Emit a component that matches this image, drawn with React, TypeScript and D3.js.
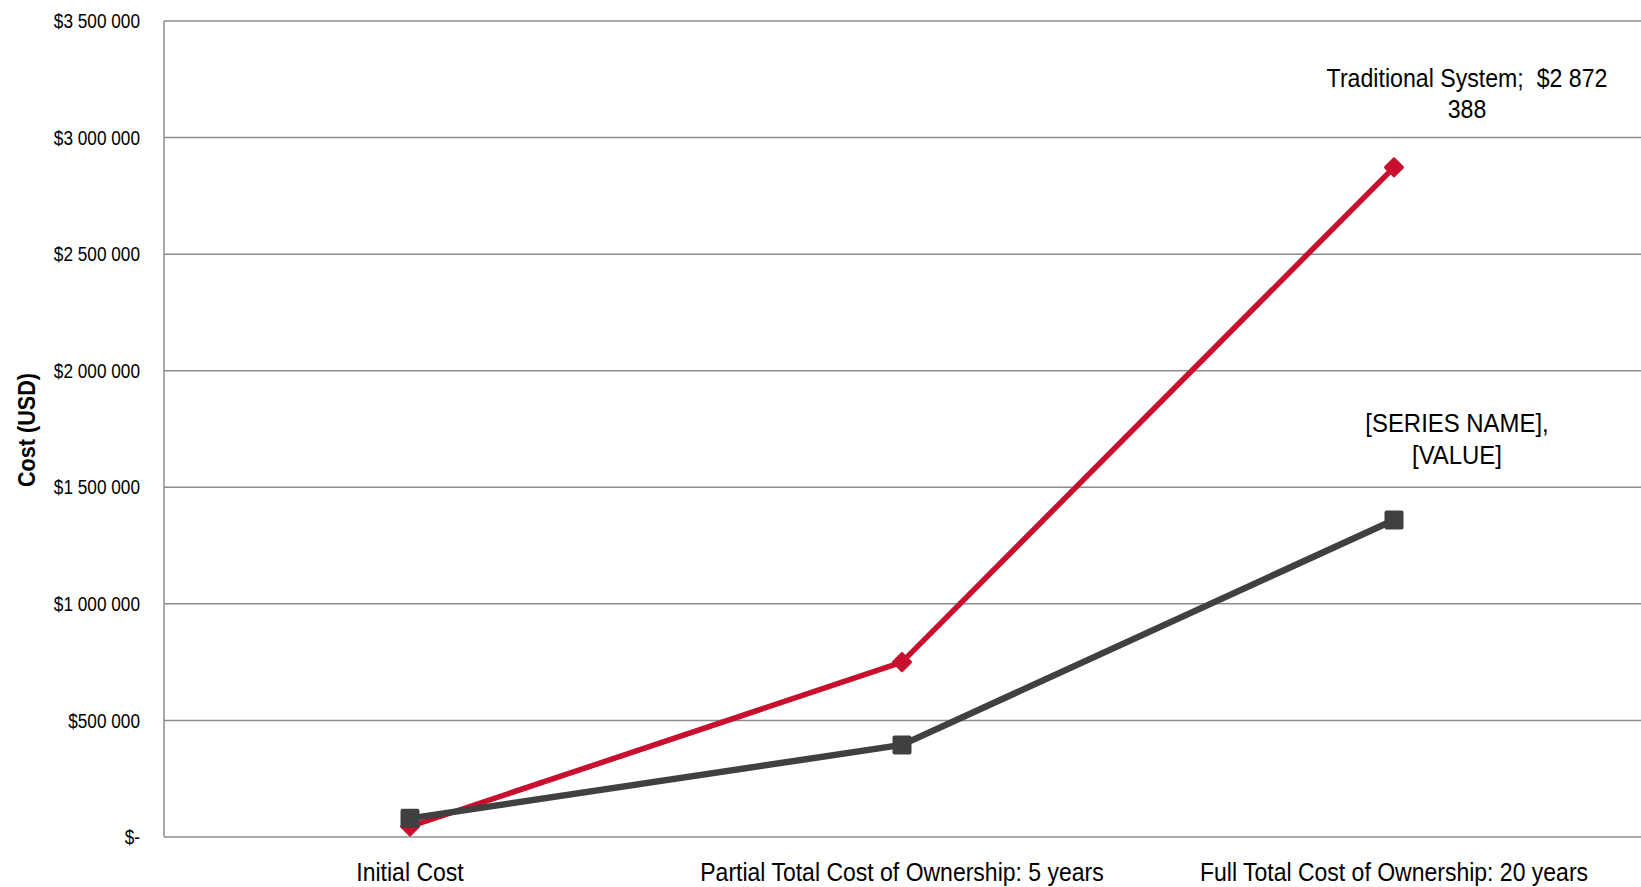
import React from "react";
import * as d3 from "d3";

const categories = [
  "Initial Cost",
  "Partial Total Cost of Ownership: 5 years",
  "Full Total Cost of Ownership: 20 years",
];
const traditionalValues = [45000, 750000, 2872388];
const otherValues = [80000, 395000, 1360000];
const yTicks = [0, 500000, 1000000, 1500000, 2000000, 2500000, 3000000, 3500000];
const traditionalLabel = ["Traditional System;  $2 872", "388"];
const otherLabel = ["[SERIES NAME],", "[VALUE]"];
const yTitle = "Cost (USD)";

const W = 1641;
const H = 887;
const FONT = "'Liberation Sans', Arial, sans-serif";

function NText({
  x,
  y,
  sx,
  size,
  anchor = "middle",
  weight = "normal",
  dy,
  children,
}: {
  x: number;
  y: number;
  sx: number;
  size: number;
  anchor?: string;
  weight?: string;
  dy?: string;
  children: React.ReactNode;
}) {
  return (
    <text
      transform={`translate(${x},${y}) scale(${sx},1)`}
      textAnchor={anchor}
      fontSize={size}
      fontWeight={weight}
      dy={dy}
      fill="#000"
      style={{ whiteSpace: "pre" }}
    >
      {children}
    </text>
  );
}

export default function App() {
  const x = d3.scaleBand<string>().domain(categories).range([164, 1640]).padding(0);
  const y = d3.scaleLinear().domain([0, 3500000]).range([837, 21]);
  const cx = (c: string) => (x(c) as number) + x.bandwidth() / 2;
  const fmt = (v: number) => (v === 0 ? "$-" : "$" + d3.format(",")(v).replace(/,/g, " "));

  const line = d3
    .line<number>()
    .x((_, i) => cx(categories[i]))
    .y((d) => y(d));

  const red = "#C8102E";
  const gray = "#404040";
  const grid = "#8c8c8c";
  const lastIdx = categories.length - 1;
  const tX = cx(categories[lastIdx]);
  const tY = y(traditionalValues[lastIdx]);
  const oY = y(otherValues[lastIdx]);

  return (
    <svg
      width={W}
      height={H}
      style={{ position: "absolute", left: 0, top: 0, background: "#fff" }}
      fontFamily={FONT}
    >
      {yTicks.map((t) => (
        <g key={t}>
          <line x1={164} x2={1641} y1={y(t)} y2={y(t)} stroke={grid} strokeWidth={1.5} />
          <NText x={140} y={y(t)} sx={0.84} size={20.5} anchor="end" dy="0.35em">
            {fmt(t)}
          </NText>
        </g>
      ))}
      <line x1={164} x2={164} y1={21} y2={837} stroke={grid} strokeWidth={1.5} />
      {categories.map((c) => (
        <NText key={c} x={cx(c)} y={881} sx={0.92} size={25}>
          {c}
        </NText>
      ))}
      <g transform="translate(35,430) rotate(-90)">
        <NText x={0} y={0} sx={0.9} size={24} weight="bold">
          {yTitle}
        </NText>
      </g>

      <path d={line(traditionalValues) || ""} fill="none" stroke={red} strokeWidth={5.5} strokeLinejoin="round" />
      {traditionalValues.map((v, i) => {
        const px = cx(categories[i]);
        const py = y(v);
        return (
          <rect
            key={"t" + i}
            x={px - 7.5}
            y={py - 7.5}
            width={15}
            height={15}
            rx={1.5}
            fill={red}
            transform={`rotate(45 ${px} ${py})`}
          />
        );
      })}
      <path d={line(otherValues) || ""} fill="none" stroke={gray} strokeWidth={6.5} strokeLinejoin="round" />
      {otherValues.map((v, i) => {
        const px = cx(categories[i]);
        const py = y(v);
        return <rect key={"o" + i} x={px - 9.5} y={py - 9.5} width={19} height={19} rx={2} fill={gray} />;
      })}

      <NText x={tX + 73} y={tY - 80} sx={0.89} size={26}>
        {traditionalLabel[0]}
      </NText>
      <NText x={tX + 73} y={tY - 49} sx={0.89} size={26}>
        {traditionalLabel[1]}
      </NText>
      <NText x={tX + 63} y={oY - 88} sx={0.92} size={26}>
        {otherLabel[0]}
      </NText>
      <NText x={tX + 63} y={oY - 56} sx={0.92} size={26}>
        {otherLabel[1]}
      </NText>
    </svg>
  );
}
